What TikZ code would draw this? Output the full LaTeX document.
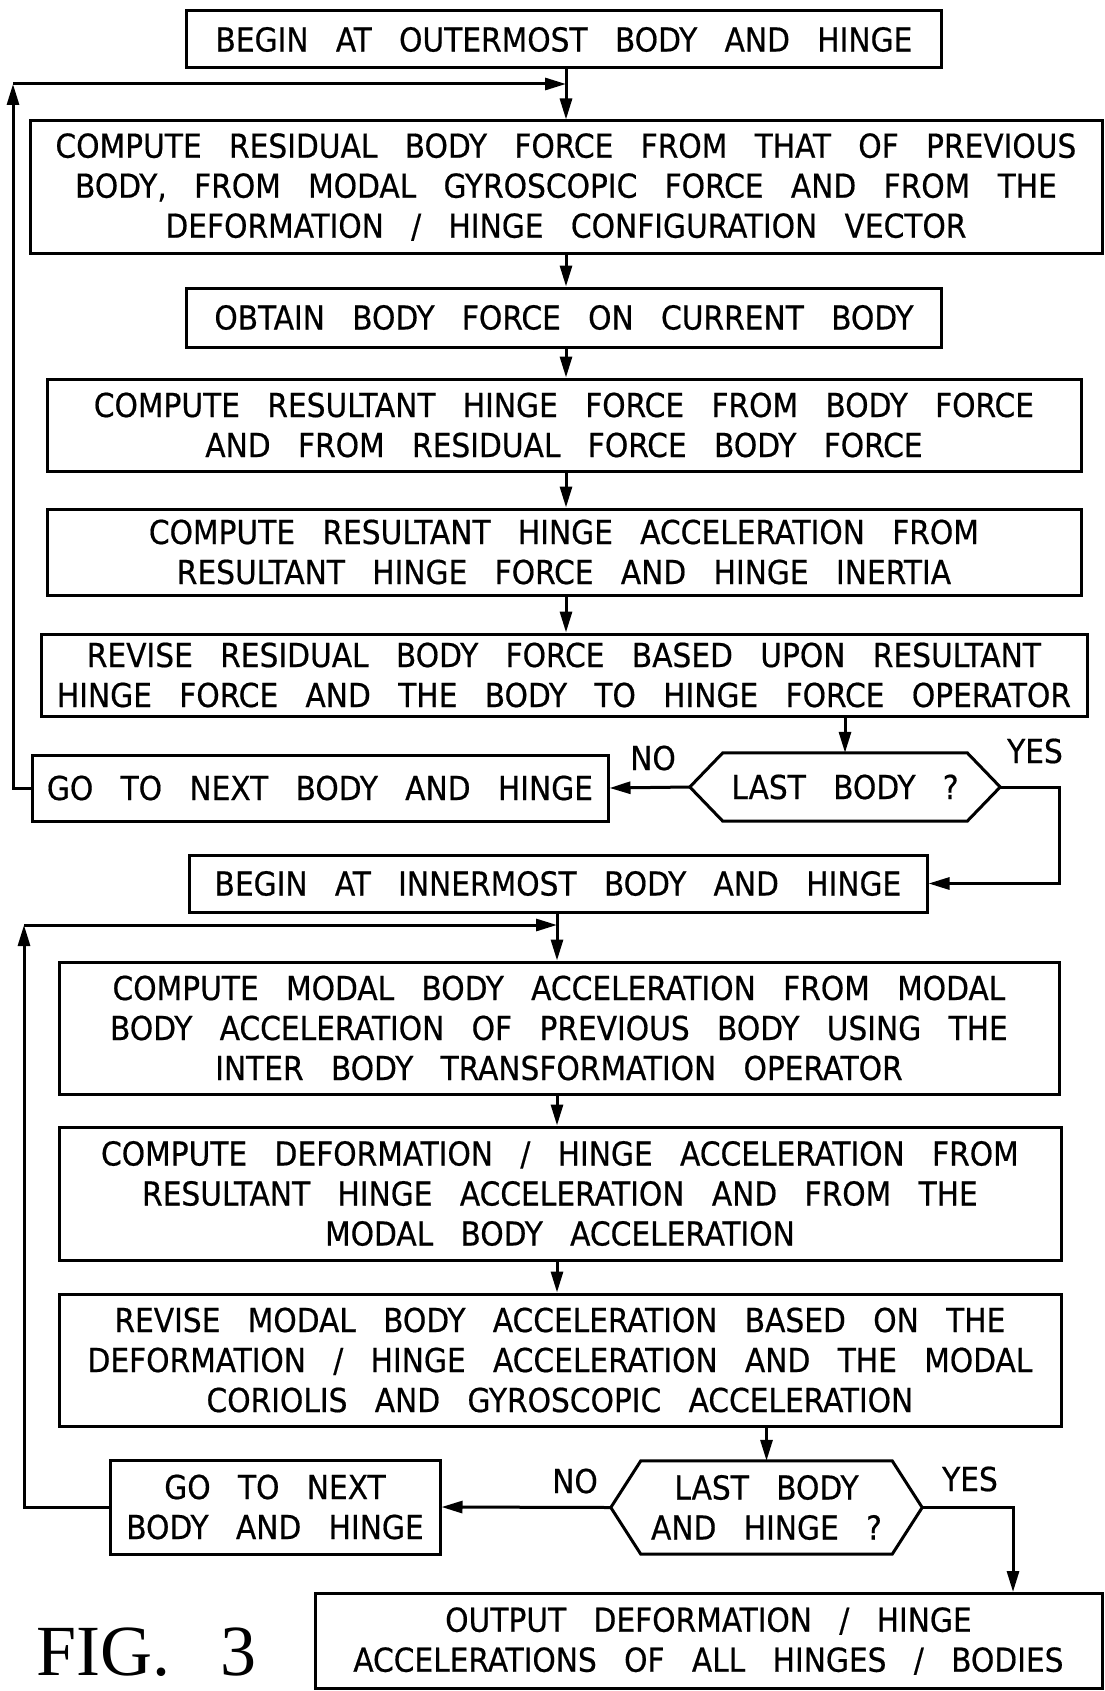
\documentclass[tikz,border=0pt]{standalone}
\usepackage{fontspec}
\setmainfont{DejaVu Sans Condensed}[WordSpace=2.9,FakeBold=0.5]
\newfontfamily\figfont{Liberation Serif}
\usetikzlibrary{arrows.meta,calc}
\begin{document}
\begin{tikzpicture}[x=1pt,y=1pt,
  every node/.style={font=\fontsize{33}{40}\selectfont},
  box/.style={draw,line width=3pt,inner sep=0pt,align=center},
  hexa/.style={inner sep=0pt,align=center},
  arr/.style={line width=3pt,-{Triangle[length=21pt,width=12pt]}},
  ln/.style={line width=3pt},
  lbl/.style={inner sep=0pt}]
\useasboundingbox (0,0) rectangle (1105,-1691);
\node[box,minimum width=755,minimum height=57] (b1) at (564,-39.5) {BEGIN AT OUTERMOST BODY AND HINGE};
\node[box,minimum width=1072,minimum height=132] (b2) at (566,-187) {COMPUTE RESIDUAL BODY FORCE FROM THAT OF PREVIOUS\\BODY, FROM MODAL GYROSCOPIC FORCE AND FROM THE\\DEFORMATION / HINGE CONFIGURATION VECTOR};
\node[box,minimum width=755,minimum height=59] (b3) at (564,-317.5) {OBTAIN BODY FORCE ON CURRENT BODY};
\node[box,minimum width=1034,minimum height=92] (b4) at (564,-425) {COMPUTE RESULTANT HINGE FORCE FROM BODY FORCE\\AND FROM RESIDUAL FORCE BODY FORCE};
\node[box,minimum width=1034,minimum height=86] (b5) at (564,-552) {COMPUTE RESULTANT HINGE ACCELERATION FROM\\RESULTANT HINGE FORCE AND HINGE INERTIA};
\node[box,minimum width=1046,minimum height=82] (b6) at (564,-675) {REVISE RESIDUAL BODY FORCE BASED UPON RESULTANT\\HINGE FORCE AND THE BODY TO HINGE FORCE OPERATOR};
\node[box,minimum width=576,minimum height=66] (b7) at (320,-788) {GO TO NEXT BODY AND HINGE};
\node[hexa,minimum width=310,minimum height=68] (d1) at (845,-787) {LAST BODY ?};
\draw[ln] (d1.west) -- ([xshift=33pt]d1.north west) -- ([xshift=-33pt]d1.north east) -- (d1.east) -- ([xshift=-33pt]d1.south east) -- ([xshift=33pt]d1.south west) -- cycle;
\node[box,minimum width=738,minimum height=57] (b8) at (558,-883.5) {BEGIN AT INNERMOST BODY AND HINGE};
\node[box,minimum width=1000,minimum height=132] (b9) at (559,-1028) {COMPUTE MODAL BODY ACCELERATION FROM MODAL\\BODY ACCELERATION OF PREVIOUS BODY USING THE\\INTER BODY TRANSFORMATION OPERATOR};
\node[box,minimum width=1002,minimum height=133] (b10) at (560,-1193.5) {COMPUTE DEFORMATION / HINGE ACCELERATION FROM\\RESULTANT HINGE ACCELERATION AND FROM THE\\MODAL BODY ACCELERATION};
\node[box,minimum width=1002,minimum height=132] (b11) at (560,-1360) {REVISE MODAL BODY ACCELERATION BASED ON THE\\DEFORMATION / HINGE ACCELERATION AND THE MODAL\\CORIOLIS AND GYROSCOPIC ACCELERATION};
\node[box,minimum width=330,minimum height=94] (b12) at (275,-1507) {GO TO NEXT\\BODY AND HINGE};
\node[hexa,minimum width=311,minimum height=93] (d2) at (766.5,-1507.5) {LAST BODY\\AND HINGE ?};
\draw[ln] (d2.west) -- ([xshift=30pt]d2.north west) -- ([xshift=-30pt]d2.north east) -- (d2.east) -- ([xshift=-30pt]d2.south east) -- ([xshift=30pt]d2.south west) -- cycle;
\node[box,minimum width=787,minimum height=95] (b13) at (708.5,-1641) {OUTPUT DEFORMATION / HINGE\\ACCELERATIONS OF ALL HINGES / BODIES};
\node[lbl,font=\figfont\fontsize{72}{74}\selectfont,anchor=base west] (fig) at (36,-1675) {FIG.\hspace{50pt}3};
\node[lbl] (no1) at (653,-758) {NO};
\node[lbl] (yes1) at (1035,-751) {YES};
\node[lbl] (no2) at (575,-1481) {NO};
\node[lbl] (yes2) at (970,-1479) {YES};
% connectors
\coordinate (j1) at (566,-84);
\coordinate (l1) at (13,-84);
\coordinate (j2) at (557,-925);
\coordinate (l2) at (24,-925);
\coordinate (y1) at (1059,-787);
\coordinate (y2) at (1013,-1507.5);
\draw[ln] (b1.south -| j1) -- (j1);
\draw[arr] (j1) -- (j1 |- b2.north);
\draw[arr] (b7.west) -| (l1);
\draw[arr] (l1) -- (j1);
\draw[arr] (b2.south -| j1) -- (j1 |- b3.north);
\draw[arr] (b3.south -| j1) -- (j1 |- b4.north);
\draw[arr] (b4.south -| j1) -- (j1 |- b5.north);
\draw[arr] (b5.south -| j1) -- (j1 |- b6.north);
\draw[arr] (b6.south -| d1.north) -- (d1.north);
\draw[arr] (d1.west) -- (b7.east);
\draw[arr] (d1.east) -- (y1) |- (b8.east);
\draw[ln] (b8.south -| j2) -- (j2);
\draw[arr] (j2) -- (j2 |- b9.north);
\draw[arr] (b12.west) -| (l2);
\draw[arr] (l2) -- (j2);
\draw[arr] (b9.south -| j2) -- (j2 |- b10.north);
\draw[arr] (b10.south -| j2) -- (j2 |- b11.north);
\draw[arr] (b11.south -| d2.north) -- (d2.north);
\draw[arr] (d2.west) -- (b12.east);
\draw[arr] (d2.east) -- (y2) -- (y2 |- b13.north);
\end{tikzpicture}
\end{document}
